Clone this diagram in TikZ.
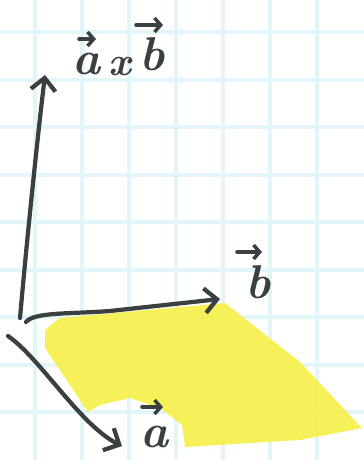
\documentclass[tikz,border=0pt]{standalone}
\usetikzlibrary{arrows.meta}
\definecolor{gridc}{RGB}{226,245,249}
\definecolor{ink}{RGB}{58,64,64}
\definecolor{hl}{RGB}{246,240,72}
\tikzset{
  gridline/.style={gridc, line width=2.6pt},
  vecarrow/.style={ink, line width=2.4pt, line cap=round, -{Straight Barb[length=7pt,width=14pt,line width=2.4pt]}},
  accent/.style={ink, line width=2pt, line cap=round, -{Straight Barb[length=3.5pt,width=8pt,line width=2pt]}},
  letter/.style={ink, font=\fontsize{27}{29}\selectfont\bfseries\itshape, inner sep=0pt},
  smallletter/.style={ink, font=\fontsize{23}{25}\selectfont\bfseries\itshape, inner sep=0pt},
}
\begin{document}
\begin{tikzpicture}[x=0.02cm, y=-0.02cm]
\useasboundingbox (0,0) rectangle (364,460);
\fill[white] (0,0) rectangle (364,460);
% grid
\foreach \gx in {35,82,129,176,223,270,317} \draw[gridline] (\gx,0) -- (\gx,460);
\foreach \gy in {32,80,127,175,222,270,317,365,412} \draw[gridline] (0,\gy) -- (364,\gy);
% highlight
\fill[hl, opacity=0.9] (45,330) -- (60,318) -- (225,303) -- (300,362) -- (362,428) -- (300,440) -- (185,447) -- (182,425) -- (160,408) -- (130,398) -- (100,405) -- (88,412) -- (70,385) -- (45,348) -- cycle;
% coordinates
\coordinate (o1) at (20,318);
\coordinate (ab) at (45,75);
\coordinate (o2) at (26,322);
\coordinate (bt) at (220,299);
\coordinate (o3) at (8,336);
\coordinate (at) at (122,446);
% vectors
\draw[vecarrow] (o1) .. controls (26,250) and (36,150) .. (ab);
\draw[vecarrow] (o2) .. controls (34,312) and (70,314) .. (110,311) -- (bt);
\draw[vecarrow] (o3) .. controls (40,358) and (80,425) .. (at);
% labels: a x b
\node[letter] (l1a) at (87,64) {a};
\node[smallletter] (l1x) at (120,67) {x};
\node[letter] (l1b) at (152,54) {b};
\coordinate (c1s) at (79,39); \coordinate (c1e) at (96,39);
\coordinate (c2s) at (136,25); \coordinate (c2e) at (163,25);
\draw[accent] (c1s) -- (c1e);
\draw[accent] (c2s) -- (c2e);
% label b
\node[letter] (lb) at (258,282) {b};
\coordinate (c3s) at (237,252); \coordinate (c3e) at (262,252);
\draw[accent] (c3s) -- (c3e);
% label a
\node[letter] (la) at (155,437) {a};
\coordinate (c4s) at (142,407); \coordinate (c4e) at (163,407);
\draw[accent] (c4s) -- (c4e);
\end{tikzpicture}
\end{document}
